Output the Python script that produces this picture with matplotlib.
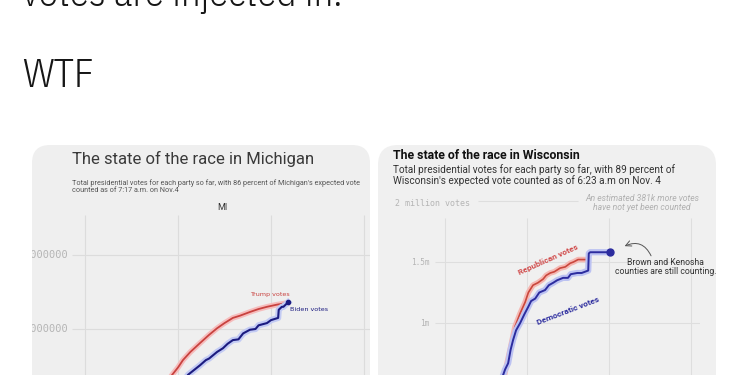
import matplotlib.pyplot as plt
import matplotlib.patheffects as pe
from matplotlib.patches import FancyBboxPatch, Rectangle

# Michigan: hours after polls closed vs. millions of votes
mi_trump_h = [2.0, 2.4, 2.81, 3.0, 3.16, 3.4, 3.71, 4.0, 4.26, 4.5, 4.77, 5.0, 5.32, 5.6, 5.87, 6.2, 6.52]
mi_trump_v = [0.85, 1.12, 1.38, 1.48, 1.58, 1.69, 1.81, 1.92, 2.01, 2.08, 2.15, 2.18, 2.23, 2.27, 2.30, 2.33, 2.35]
mi_biden_h = [2.6, 3.0, 3.32, 3.5, 3.71, 3.9, 4.0, 4.26, 4.45, 4.6, 4.77, 4.95, 5.1, 5.32, 5.5, 5.6,
              5.87, 6.0, 6.23, 6.25, 6.35, 6.40, 6.55]
mi_biden_v = [0.85, 1.15, 1.38, 1.44, 1.51, 1.58, 1.60, 1.69, 1.74, 1.80, 1.85, 1.86, 1.94, 1.99, 2.00, 2.05,
              2.08, 2.12, 2.15, 2.26, 2.30, 2.30, 2.36]
mi_yticks = [2, 3]
mi_ylabels = ['2000000', '3000000']
mi_xgrid = [0, 3, 6, 9]

# Wisconsin
wi_rep_h = [1.9, 2.05, 2.20, 2.4, 2.56, 2.75, 2.93, 3.05, 3.22, 3.40, 3.59, 3.70, 3.85, 4.0, 4.21, 4.4,
            4.58, 4.7, 4.87, 5.24]
wi_rep_v = [0.2, 0.4, 0.60, 0.80, 0.97, 1.08, 1.17, 1.25, 1.31, 1.33, 1.36, 1.39, 1.41, 1.42, 1.45, 1.46,
            1.49, 1.50, 1.52, 1.52]
wi_dem_h = [1.85, 2.0, 2.12, 2.20, 2.31, 2.40, 2.49, 2.6, 2.75, 2.9, 3.04, 3.15, 3.30, 3.45, 3.66, 3.8,
            3.96, 4.1, 4.32, 4.5, 4.6, 4.84, 5.0, 5.24, 5.26, 5.31, 6.04]
wi_dem_v = [0.2, 0.42, 0.57, 0.62, 0.67, 0.78, 0.86, 0.94, 1.00, 1.07, 1.13, 1.18, 1.20, 1.25, 1.27, 1.31,
            1.33, 1.35, 1.37, 1.37, 1.40, 1.41, 1.41, 1.43, 1.57, 1.58, 1.58]
wi_yticks = [1.0, 1.5]
wi_ylabels = ['1m', '1.5m']
wi_xgrid = [0, 3, 6, 9]

W, H = 734, 375
fig = plt.figure(figsize=(W / 100, H / 100), dpi=100)
fig.patch.set_facecolor('white')

# fond en pixels
bg = fig.add_axes([0, 0, 1, 1])
bg.set_xlim(0, W)
bg.set_ylim(H, 0)
bg.axis('off')

tweet_font = ['IBM Plex Sans Condensed', 'Roboto', 'DejaVu Sans']
bg.text(22, 6, "votes are injected in.", fontsize=28, family=tweet_font, fontweight=300,
        color='#161616', va='baseline')
bg.text(22, 87, "WTF", fontsize=28.5, family=tweet_font, fontweight=300,
        color='#161616', va='baseline')

left_panel = FancyBboxPatch((32, 145), 338, 280, boxstyle="round,pad=0,rounding_size=18",
                            fc='#efefef', ec='none')
right_panel = FancyBboxPatch((378, 145), 338, 280, boxstyle="round,pad=0,rounding_size=20",
                             fc='#f0f0f0', ec='none')
bg.add_patch(left_panel)
bg.add_patch(right_panel)

# textes Michigan
bg.text(72, 164, "The state of the race in Michigan", fontsize=12, family='Roboto',
        color='#3a3a3a', va='baseline')
bg.text(72, 179, "Total presidential votes for each party so far, with 86 percent of Michigan's expected vote\n"
        "counted as of 7:17 a.m. on Nov.4", fontsize=5.2, family='Roboto', color='#555555',
        va='top', linespacing=1.0)
bg.text(222, 210, "MI", fontsize=6.5, family='Roboto', color='#333333', ha='center', va='baseline')

# textes Wisconsin
bg.text(393, 159, "The state of the race in Wisconsin", fontsize=8.8, family='Roboto',
        fontweight='bold', color='#111111', va='baseline')
bg.text(393, 164, "Total presidential votes for each party so far, with 89 percent of\n"
        "Wisconsin's expected vote counted as of 6:23 a.m on Nov. 4", fontsize=7.2, family='Roboto',
        color='#333333', va='top', linespacing=1.05)
bg.text(395, 203, "2 million votes", fontsize=6, family='DejaVu Sans Mono', color='#b5b5b5', va='center')
bg.text(642, 203, "An estimated 381k more votes\nhave not yet been counted", fontsize=6.2,
        family='Roboto', style='italic', color='#b0b0b0', ha='center', va='center', linespacing=1.0)


def panel_axes(px0, px1, py0, py1, gx, gy):
    # gx, gy: (pixel, valeur) pour deux repères de chaque axe
    (ax0, vx0), (ax1, vx1) = gx
    (ay0, vy0), (ay1, vy1) = gy
    sx = (vx1 - vx0) / (ax1 - ax0)
    sy = (vy1 - vy0) / (ay1 - ay0)
    ax = fig.add_axes([px0 / W, 1 - py1 / H, (px1 - px0) / W, (py1 - py0) / H])
    ax.set_xlim(vx0 + (px0 - ax0) * sx, vx0 + (px1 - ax0) * sx)
    ax.set_ylim(vy0 + (py1 - ay0) * sy, vy0 + (py0 - ay0) * sy)
    ax.patch.set_alpha(0)
    ax.axis('off')
    return ax


# ---- Michigan
axm = panel_axes(72, 370, 215, 420, ((85, 0), (178, 3)), ((329, 2), (255, 3)))
y0, y1 = axm.get_ylim()
x0, x1 = axm.get_xlim()
axm.vlines(mi_xgrid, y0, y1, color='#dcdcdc', lw=0.8, zorder=0)
axm.hlines(mi_yticks, x0, x1, color='#dcdcdc', lw=0.8, zorder=0)
for v, lab in zip(mi_yticks, mi_ylabels):
    axm.text(x0 - 0.12, v, lab, fontsize=7.5, family='DejaVu Sans Mono', color='#b5b5b5',
             ha='right', va='center', clip_on=False)

# bande blanche : l'image est rognée à gauche, les libellés sont coupés
fig.add_artist(Rectangle((0, 0), 32 / W, 1 - 200 / H, transform=fig.transFigure,
                         fc='white', ec='none', zorder=10))

mi_red, mi_blue = '#c8423f', '#1c1c80'
axm.plot(mi_trump_h, mi_trump_v, color=mi_red, lw=1.3, solid_joinstyle='round',
         path_effects=[pe.Stroke(linewidth=4, foreground='#f6bcbc'), pe.Normal()])
axm.plot(mi_biden_h, mi_biden_v, color=mi_blue, lw=1.5, solid_joinstyle='round',
         path_effects=[pe.Stroke(linewidth=4.5, foreground='#c3cbf4'), pe.Normal()])
axm.plot(mi_biden_h[-1], mi_biden_v[-1], 'o', color=mi_blue, ms=3)
axm.text(5.97, 2.46, "Trump votes", fontsize=4.6, color=mi_red, ha='center', va='center')
axm.text(6.61, 2.27, "Biden votes", fontsize=4.6, color=mi_blue, ha='left', va='center')

# ---- Wisconsin
axw = panel_axes(435, 700, 195, 420, ((445, 0), (527, 3)), ((323, 1.0), (262, 1.5)))
y0, y1 = axw.get_ylim()
x0, x1 = axw.get_xlim()
ytop_grid = 1.5 + (262 - 218) / 122
axw.vlines(wi_xgrid, y0, ytop_grid, color='#dedede', lw=0.8, zorder=0)
axw.hlines(wi_yticks, x0, x1, color='#dedede', lw=0.8, zorder=0)
axw.hlines(2.0, 1.21, 4.87, color='#dedede', lw=0.8, zorder=0)
for v, lab in zip(wi_yticks, wi_ylabels):
    axw.text(x0 - 0.2, v, lab, fontsize=5.6, family='DejaVu Sans Mono', color='#b5b5b5',
             ha='right', va='center', clip_on=False)

wi_red, wi_blue = '#c9473d', '#2c2c9e'
axw.plot(wi_rep_h, wi_rep_v, color=wi_red, lw=1.2, solid_joinstyle='round',
         path_effects=[pe.Stroke(linewidth=4, foreground='#f5b8b3'), pe.Normal()])
axw.plot(wi_dem_h, wi_dem_v, color=wi_blue, lw=1.4, solid_joinstyle='round',
         path_effects=[pe.Stroke(linewidth=4.5, foreground='#bcc2f2'), pe.Normal()])
axw.plot(wi_dem_h[-1], wi_dem_v[-1], 'o', color=wi_blue, ms=5)

axw.text(3.77, 1.516, "Republican votes", rotation=24, fontsize=6, fontweight='bold',
         family='Roboto', color='#d04a4a', ha='center', va='center', rotation_mode='anchor')
axw.text(4.51, 1.10, "Democratic votes", rotation=21, fontsize=6, fontweight='bold',
         family='Roboto', color=wi_blue, ha='center', va='center', rotation_mode='anchor')
axw.text(8.06, 1.46, "Brown and Kenosha\ncounties are still counting.", fontsize=6.2,
         family='Roboto', color='#333333', ha='center', va='center', linespacing=1.1, clip_on=False)
axw.annotate("", xy=(6.48, 1.62), xytext=(7.58, 1.53),
             arrowprops=dict(arrowstyle='->', color='#555555', lw=0.7,
                             connectionstyle='arc3,rad=0.55'))

fig.savefig('out.png', dpi=100)
